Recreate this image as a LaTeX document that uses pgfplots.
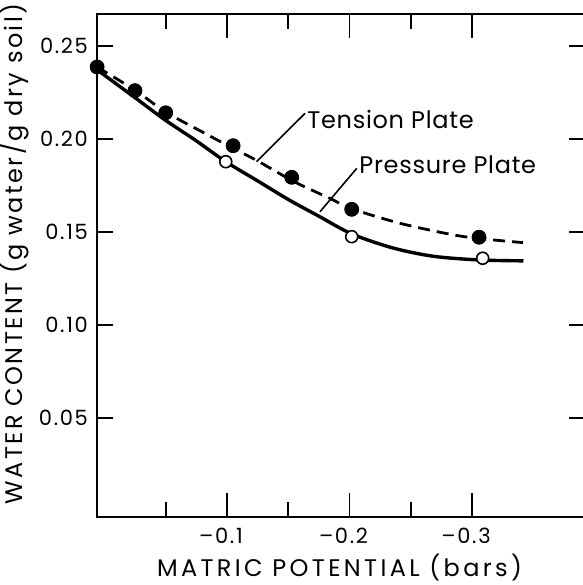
\documentclass[border=0pt]{standalone}
\usepackage{fontspec}
\setmainfont{Poppins}
\newfontfamily\spaced[LetterSpace=10]{Poppins}
\newfontfamily\xspaced[LetterSpace=14]{Poppins}
\newfontfamily\lspaced[LetterSpace=3]{Poppins}
\newfontfamily\tspaced[LetterSpace=8]{Poppins}
\usepackage{pgfplots}
\pgfplotsset{compat=1.18}
\begin{document}
\begin{tikzpicture}
\useasboundingbox (-48.5pt,-34pt) rectangle (243pt,258.5pt);
\begin{axis}[
  scale only axis, width=244pt, height=251.5pt,
  at={(0,0)}, anchor=south west,
  x dir=reverse,
  xmin=-0.3922, xmax=0.0061,
  ymin=-0.0032, ymax=0.2672,
  xtick={-0.3,-0.2,-0.1}, xticklabels={–0.3,–0.2,–0.1},
  minor xtick={-0.25,-0.15,-0.05},
  ytick={0.05,0.1,0.15,0.2,0.25}, yticklabels={0.05,0.10,0.15,0.20,0.25},
  tick align=inside,
  major tick length=8pt, minor tick length=7.5pt,
  axis line style={line width=0.8pt},
  every tick/.style={black, line width=0.8pt},
  tick label style={font=\tspaced\fontsize{10.5}{12}\selectfont},
  xticklabel style={xshift=-3pt, yshift=-2pt},
  yticklabel style={xshift=-1pt},
  xlabel={\xspaced MATRIC POTENTIAL (bars)},
  ylabel={\spaced WATER CONTENT (g water/g dry soil)},
  label style={font=\fontsize{12}{14}\selectfont},
  xlabel style={at={(axis description cs:0.497,-0.101)}, anchor=center},
  ylabel style={at={(axis description cs:-0.169,0.523)}, anchor=center},
  clip=false,
]
% Pressure plate curve (solid)
\addplot[black, line width=1.7pt, smooth] coordinates {
  (0.006,0.2372) (-0.025,0.2222) (-0.050,0.2100) (-0.075,0.1990)
  (-0.099,0.1878) (-0.125,0.1775) (-0.150,0.1675) (-0.175,0.1585)
  (-0.2018,0.1490) (-0.235,0.1415) (-0.268,0.1370) (-0.305,0.1350)
  (-0.342,0.1345)
};
% Tension plate curve (dashed)
\addplot[black, line width=1.4pt, smooth, dash pattern=on 6pt off 3.5pt] coordinates {
  (0.006,0.2387) (-0.025,0.2262) (-0.050,0.2145) (-0.0807,0.2035)
  (-0.105,0.1950) (-0.1242,0.1885) (-0.1550,0.1770) (-0.184,0.1681)
  (-0.2018,0.1625) (-0.2412,0.1547) (-0.282,0.1488) (-0.3057,0.1465)
  (-0.3416,0.1443)
};
% Pressure plate points (open)
\addplot[only marks, mark=*, mark size=3pt, mark options={fill=white, draw=black, line width=0.8pt}] coordinates {
  (-0.099,0.1878) (-0.2018,0.1475) (-0.3087,0.1359)
};
% Tension plate points (filled)
\addplot[only marks, mark=*, mark size=3.5pt, mark options={fill=black, draw=black}] coordinates {
  (0.006,0.2387) (-0.0249,0.2260) (-0.050,0.2141) (-0.105,0.1964)
  (-0.1528,0.1794) (-0.2018,0.1622) (-0.3057,0.1472)
};
% longer major x ticks
\draw[black, line width=0.8pt] (axis cs:-0.1,-0.0032) -- ([yshift=12pt]axis cs:-0.1,-0.0032);
\draw[black, line width=0.8pt] (axis cs:-0.2,-0.0032) -- ([yshift=12pt]axis cs:-0.2,-0.0032);
\draw[black, line width=0.8pt] (axis cs:-0.3,-0.0032) -- ([yshift=12pt]axis cs:-0.3,-0.0032);
\draw[black, line width=0.8pt] (axis cs:-0.1,0.2672) -- ([yshift=-12pt]axis cs:-0.1,0.2672);
\draw[black, line width=0.8pt] (axis cs:-0.2,0.2672) -- ([yshift=-12pt]axis cs:-0.2,0.2672);
\draw[black, line width=0.8pt] (axis cs:-0.3,0.2672) -- ([yshift=-12pt]axis cs:-0.3,0.2672);
\draw[black, line width=0.8pt] (axis cs:-0.1637,0.2138) -- (axis cs:-0.1242,0.1878);
\draw[black, line width=0.8pt] (axis cs:-0.2059,0.1842) -- (axis cs:-0.1759,0.1609);
\node[anchor=base west, inner sep=0pt, font=\fontsize{12}{14}\selectfont] at (axis cs:-0.1653,0.2058) {\lspaced Tension Plate};
\node[anchor=base west, inner sep=0pt, font=\fontsize{12}{14}\selectfont] at (axis cs:-0.2078,0.1816) {\lspaced Pressure Plate};
\end{axis}
\end{tikzpicture}
\end{document}
